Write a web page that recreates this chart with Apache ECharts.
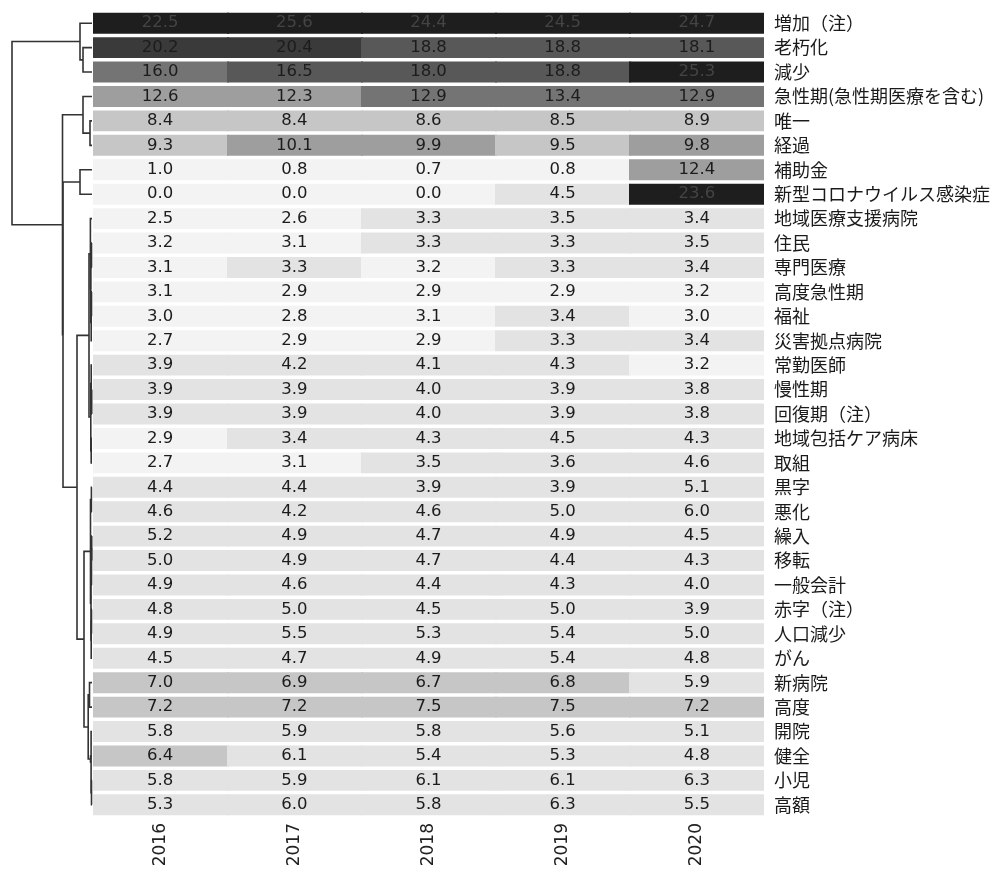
<!DOCTYPE html>
<html>
<head>
<meta charset="utf-8">
<script src="https://cdn.jsdelivr.net/npm/echarts@6/dist/echarts.min.js"></script>
<style>
  html, body { margin: 0; padding: 0; background: #fff; }
  #chart { width: 1002px; height: 871px; }
</style>
</head>
<body>
<div id="chart"></div>
<script>
// 年
var years = ['2016', '2017', '2018', '2019', '2020'];

// 語（行の並び＝デンドログラムの葉の順）
var terms = [
  '増加（注）', '老朽化', '減少', '急性期(急性期医療を含む)', '唯一', '経過', '補助金',
  '新型コロナウイルス感染症', '地域医療支援病院', '住民', '専門医療', '高度急性期', '福祉',
  '災害拠点病院', '常勤医師', '慢性期', '回復期（注）', '地域包括ケア病床', '取組', '黒字',
  '悪化', '繰入', '移転', '一般会計', '赤字（注）', '人口減少', 'がん', '新病院', '高度',
  '開院', '健全', '小児', '高額'
];

// 各語の値（2016〜2020）
var values = [
  [22.5, 25.6, 24.4, 24.5, 24.7],
  [20.2, 20.4, 18.8, 18.8, 18.1],
  [16.0, 16.5, 18.0, 18.8, 25.3],
  [12.6, 12.3, 12.9, 13.4, 12.9],
  [8.4, 8.4, 8.6, 8.5, 8.9],
  [9.3, 10.1, 9.9, 9.5, 9.8],
  [1.0, 0.8, 0.7, 0.8, 12.4],
  [0.0, 0.0, 0.0, 4.5, 23.6],
  [2.5, 2.6, 3.3, 3.5, 3.4],
  [3.2, 3.1, 3.3, 3.3, 3.5],
  [3.1, 3.3, 3.2, 3.3, 3.4],
  [3.1, 2.9, 2.9, 2.9, 3.2],
  [3.0, 2.8, 3.1, 3.4, 3.0],
  [2.7, 2.9, 2.9, 3.3, 3.4],
  [3.9, 4.2, 4.1, 4.3, 3.2],
  [3.9, 3.9, 4.0, 3.9, 3.8],
  [3.9, 3.9, 4.0, 3.9, 3.8],
  [2.9, 3.4, 4.3, 4.5, 4.3],
  [2.7, 3.1, 3.5, 3.6, 4.6],
  [4.4, 4.4, 3.9, 3.9, 5.1],
  [4.6, 4.2, 4.6, 5.0, 6.0],
  [5.2, 4.9, 4.7, 4.9, 4.5],
  [5.0, 4.9, 4.7, 4.4, 4.3],
  [4.9, 4.6, 4.4, 4.3, 4.0],
  [4.8, 5.0, 4.5, 5.0, 3.9],
  [4.9, 5.5, 5.3, 5.4, 5.0],
  [4.5, 4.7, 4.9, 5.4, 4.8],
  [7.0, 6.9, 6.7, 6.8, 5.9],
  [7.2, 7.2, 7.5, 7.5, 7.2],
  [5.8, 5.9, 5.8, 5.6, 5.1],
  [6.4, 6.1, 5.4, 5.3, 4.8],
  [5.8, 5.9, 6.1, 6.1, 6.3],
  [5.3, 6.0, 5.8, 6.3, 5.5]
];

// 結合 [子A, 子B, 距離]  子 >= 33 はクラスタ番号 (33 + 行)
var linkage = [
  [1, 2, 9],      // 33
  [0, 33, 12],    // 34
  [4, 5, 2],      // 35
  [3, 35, 9],     // 36
  [6, 7, 12],     // 37
  [15, 16, 0.3],  // 38
  [14, 38, 0.8],  // 39
  [17, 18, 0.8],  // 40
  [39, 40, 1.2],  // 41
  [11, 12, 0.5],  // 42
  [42, 13, 0.8],  // 43
  [9, 10, 0.5],   // 44
  [44, 43, 1.2],  // 45
  [8, 45, 1.6],   // 46
  [46, 41, 3],    // 47
  [21, 22, 0.3],  // 48
  [23, 48, 0.5],  // 49
  [24, 25, 0.5],  // 50
  [50, 26, 0.8],  // 51
  [49, 51, 1.0],  // 52
  [19, 20, 0.6],  // 53
  [53, 52, 1.5],  // 54
  [31, 32, 0.5],  // 55
  [29, 55, 0.9],  // 56
  [30, 56, 1.5],  // 57
  [27, 28, 2.5],  // 58
  [58, 57, 3.8],  // 59
  [54, 59, 8],    // 60
  [47, 60, 15],   // 61
  [37, 61, 29],   // 62
  [36, 62, 29.5], // 63
  [34, 63, 80]    // 64
];

// 濃淡の区切り
var pieces = [
  { min: 0, max: 3.25, color: '#f3f3f3' },
  { min: 3.25, max: 6.35, color: '#e3e3e3' },
  { min: 6.35, max: 9.7, color: '#c6c6c6' },
  { min: 9.7, max: 12.75, color: '#9e9e9e' },
  { min: 12.75, max: 16.2, color: '#747474' },
  { min: 16.2, max: 19.5, color: '#585858' },
  { min: 19.5, max: 22, color: '#3a3a3a' },
  { min: 22, max: 30, color: '#1e1e1e' }
];

var heatData = [];
values.forEach(function (row, r) {
  row.forEach(function (v, c) { heatData.push([c, r, v]); });
});

// デンドログラムの線分データ
var n = terms.length;
var nodeY = [], nodeH = [];
for (var i = 0; i < n; i++) { nodeY[i] = i; nodeH[i] = 0; }
var dendroData = [];
linkage.forEach(function (m, k) {
  var a = m[0], b = m[1], h = m[2];
  dendroData.push([h, nodeY[a], nodeH[a], nodeY[b], nodeH[b]]);
  nodeY[n + k] = (nodeY[a] + nodeY[b]) / 2;
  nodeH[n + k] = h;
});

var chart = echarts.init(document.getElementById('chart'));

chart.setOption({
  backgroundColor: '#fff',
  animation: false,
  grid: [
    { left: 93, width: 671, top: 11, height: 806 },
    { left: 12, width: 80, top: 11, height: 806 }
  ],
  xAxis: [
    {
      type: 'category', data: years, gridIndex: 0, position: 'bottom',
      axisLine: { show: false }, axisTick: { show: false }, splitLine: { show: false },
      axisLabel: { rotate: 90, margin: 6, fontSize: 17, color: '#222', fontFamily: 'DejaVu Sans' }
    },
    { type: 'value', gridIndex: 1, min: 0, max: 80, inverse: true, show: false }
  ],
  yAxis: [
    {
      type: 'category', data: terms, gridIndex: 0, inverse: true, position: 'right',
      axisLine: { show: false }, axisTick: { show: false }, splitLine: { show: false },
      axisLabel: { margin: 10, fontSize: 18, color: '#1a1a1a', fontFamily: 'Noto Sans CJK JP' }
    },
    { type: 'value', gridIndex: 1, min: -0.5, max: n - 0.5, inverse: true, show: false }
  ],
  visualMap: {
    type: 'piecewise', show: false, seriesIndex: 0, dimension: 2, pieces: pieces
  },
  series: [
    {
      type: 'custom',
      xAxisIndex: 0, yAxisIndex: 0,
      data: heatData,
      renderItem: function (params, api) {
        var c = api.coord([api.value(0), api.value(1)]);
        var s = api.size([1, 1]);
        var h = s[1] - 3.5;
        var x0 = Math.floor(c[0] - s[0] / 2);
        var x1 = Math.ceil(c[0] + s[0] / 2) + 1;
        var v = api.value(2);
        return {
          type: 'group',
          children: [
            {
              type: 'rect',
              shape: { x: x0, y: c[1] - h / 2, width: Math.min(x1, 764) - x0, height: h },
              style: { fill: api.visual('color') }
            },
            {
              type: 'text', x: c[0], y: c[1],
              style: {
                text: v.toFixed(1), fill: v >= 22 ? '#444' : '#1c1c1c',
                fontSize: 16.5, fontFamily: 'DejaVu Sans',
                align: 'center', verticalAlign: 'middle'
              }
            }
          ]
        };
      }
    },
    {
      type: 'custom',
      xAxisIndex: 1, yAxisIndex: 1,
      data: dendroData,
      renderItem: function (params, api) {
        var p1 = api.coord([api.value(2), api.value(1)]);
        var p2 = api.coord([api.value(0), api.value(1)]);
        var p3 = api.coord([api.value(0), api.value(3)]);
        var p4 = api.coord([api.value(4), api.value(3)]);
        return {
          type: 'polyline',
          shape: { points: [p1, p2, p3, p4] },
          style: { stroke: '#333', lineWidth: 1.6, fill: null }
        };
      }
    }
  ]
});
</script>
</body>
</html>
